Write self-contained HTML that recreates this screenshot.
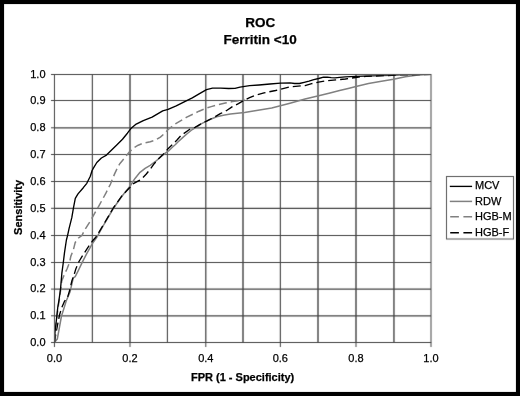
<!DOCTYPE html>
<html><head><meta charset="utf-8"><style>
html,body{margin:0;padding:0;background:#000;}
body{width:520px;height:396px;overflow:hidden;}
svg{display:block;font-family:"Liberation Sans",sans-serif;}
</style></head><body>
<svg width="520" height="396" viewBox="0 0 520 396">
<defs><filter id="soft" x="0" y="0" width="520" height="396" filterUnits="userSpaceOnUse" color-interpolation-filters="sRGB"><feConvolveMatrix order="3" kernelMatrix="0.0064 0.0672 0.0064 0.0672 0.7056 0.0672 0.0064 0.0672 0.0064" divisor="1" edgeMode="duplicate" preserveAlpha="true"/></filter><clipPath id="pa"><rect x="54.9" y="75.25" width="376.10" height="267.25"/></clipPath><filter id="gray" x="0" y="0" width="520" height="396" filterUnits="userSpaceOnUse"><feOffset dx="0" dy="0"/></filter></defs>
<rect x="0" y="0" width="520" height="396" fill="#000"/>
<g filter="url(#soft)">
<rect x="4" y="4" width="512" height="388" fill="#fff"/>
<g stroke="#444" stroke-width="1" fill="none">
<line x1="92.35" y1="74.5" x2="92.35" y2="342.5" stroke-width="1.12"/>
<line x1="130.00" y1="74.5" x2="130.00" y2="342.5" stroke-width="1.40"/>
<line x1="167.40" y1="74.5" x2="167.40" y2="342.5" stroke-width="1.08"/>
<line x1="205.80" y1="74.5" x2="205.80" y2="342.5" stroke-width="1.24"/>
<line x1="243.00" y1="74.5" x2="243.00" y2="342.5" stroke-width="1.40"/>
<line x1="280.35" y1="74.5" x2="280.35" y2="342.5" stroke-width="1.12"/>
<line x1="318.00" y1="74.5" x2="318.00" y2="342.5" stroke-width="1.40"/>
<line x1="356.00" y1="74.5" x2="356.00" y2="342.5" stroke-width="1.40"/>
<line x1="393.95" y1="74.5" x2="393.95" y2="342.5" stroke-width="1.36"/>
<line x1="54.45" y1="315.80" x2="431" y2="315.80" stroke-width="1.24"/>
<line x1="54.45" y1="289.10" x2="431" y2="289.10" stroke-width="1.32"/>
<line x1="54.45" y1="262.50" x2="431" y2="262.50" stroke-width="1.00"/>
<line x1="54.45" y1="235.50" x2="431" y2="235.50" stroke-width="1.00"/>
<line x1="54.45" y1="208.30" x2="431" y2="208.30" stroke-width="1.16"/>
<line x1="54.45" y1="181.50" x2="431" y2="181.50" stroke-width="1.00"/>
<line x1="54.45" y1="154.50" x2="431" y2="154.50" stroke-width="1.00"/>
<line x1="54.45" y1="127.80" x2="431" y2="127.80" stroke-width="1.24"/>
<line x1="54.45" y1="100.50" x2="431" y2="100.50" stroke-width="1.00"/>
<rect x="54.45" y="74.5" width="376.55" height="268"/>
<line x1="51" y1="342.50" x2="54.45" y2="342.50"/>
<line x1="51" y1="315.80" x2="54.45" y2="315.80"/>
<line x1="51" y1="289.10" x2="54.45" y2="289.10"/>
<line x1="51" y1="262.50" x2="54.45" y2="262.50"/>
<line x1="51" y1="235.50" x2="54.45" y2="235.50"/>
<line x1="51" y1="208.30" x2="54.45" y2="208.30"/>
<line x1="51" y1="181.50" x2="54.45" y2="181.50"/>
<line x1="51" y1="154.50" x2="54.45" y2="154.50"/>
<line x1="51" y1="127.80" x2="54.45" y2="127.80"/>
<line x1="51" y1="100.50" x2="54.45" y2="100.50"/>
<line x1="51" y1="74.50" x2="54.45" y2="74.50"/>
<line x1="54.45" y1="342.5" x2="54.45" y2="347"/>
<line x1="130.00" y1="342.5" x2="130.00" y2="347"/>
<line x1="205.80" y1="342.5" x2="205.80" y2="347"/>
<line x1="280.35" y1="342.5" x2="280.35" y2="347"/>
<line x1="356.00" y1="342.5" x2="356.00" y2="347"/>
<line x1="431.00" y1="342.5" x2="431.00" y2="347"/>
</g>
<rect x="446.5" y="176.5" width="67" height="62.5" fill="#fff" stroke="#555" stroke-width="1"/>
</g>
<g fill="none" stroke-linejoin="round" stroke-linecap="butt" filter="url(#gray)">
<g clip-path="url(#pa)">
<polyline points="54.4,342.4 57.3,339.0 61.5,316.0 63.5,309.8 66.2,301.0 70.0,292.0 73.3,277.9 75.2,276.6 78.4,270.3 82.1,262.7 86.6,253.9 92.2,243.8 97.0,237.0 104.5,223.5 113.3,208.5 122.1,196.0 129.8,186.5 135.0,178.4 140.0,172.3 145.1,168.3 150.2,165.3 155.2,161.7 160.3,157.2 165.3,153.1 169.3,150.3 172.6,147.0 175.5,144.5 177.9,142.0 183.2,137.1 187.7,133.3 192.3,129.5 197.5,126.4 201.1,123.8 208.1,120.3 216.7,116.7 223.3,115.2 230.4,114.0 237.4,113.2 244.5,112.4 250.4,111.5 271.7,108.0 290.0,103.2 305.0,99.0 318.7,95.7 330.0,92.9 339.6,90.5 349.2,88.2 356.0,86.5 368.5,83.5 380.0,81.6 393.5,79.2 405.4,76.8 416.1,75.2 424.2,74.4 431.4,74.4" stroke="#808080" stroke-width="1.5"/>
<polyline points="54.4,342.4 56.0,333.0 59.5,315.0 62.0,307.0 64.4,301.4 67.5,297.4 69.7,290.3 70.2,288.0 72.0,280.4 73.9,275.4 75.8,269.0 79.0,261.5 82.1,256.4 87.8,247.6 92.2,241.3 96.0,237.0 104.5,223.0 113.3,208.0 122.1,195.6 129.8,187.5 132.7,184.1 139.8,180.2 141.1,179.4 146.1,174.3 150.2,169.3 154.2,163.7 158.2,159.2 165.3,152.1 167.3,149.6 172.2,144.7 175.0,142.0 177.0,140.0 181.0,135.5 190.7,128.6 195.0,127.3 201.1,123.8 208.1,120.3 215.2,116.7 220.3,113.7 226.3,110.7 232.4,106.6 238.4,103.6 244.5,100.1 249.6,97.7 255.4,95.3 264.0,92.9 268.8,91.9 275.6,90.5 280.4,89.3 290.0,86.8 305.0,85.6 311.7,83.7 318.5,82.1 325.2,81.0 336.0,79.9 345.4,79.0 352.1,78.0 358.8,77.0 366.0,76.4 375.0,76.0 392.0,75.4 400.0,74.9 431.4,74.4" stroke="#000" stroke-width="1.35" stroke-dasharray="8,4"/>
<polyline points="54.4,342.4 55.5,330.0 57.0,316.0 58.5,305.0 60.0,295.0 61.7,281.3 64.5,274.1 67.0,269.0 69.5,262.7 70.8,256.4 73.3,250.1 75.2,242.5 78.5,238.0 82.0,235.3 84.7,230.0 90.3,221.2 99.2,205.3 105.9,193.2 108.5,187.7 110.5,184.1 112.3,179.5 114.6,173.9 117.8,167.0 120.0,163.4 125.1,157.3 129.1,152.3 133.2,148.2 138.2,145.2 143.3,143.2 150.3,141.7 155.4,140.2 160.4,137.1 165.5,132.6 168.1,129.5 176.2,123.4 186.3,117.4 199.0,111.2 205.1,108.6 211.2,106.6 218.2,104.6 225.3,103.1 232.4,101.6 239.4,100.6 244.5,99.6" stroke="#808080" stroke-width="1.5" stroke-dasharray="8,4"/>
<polyline points="54.4,342.4 55.0,332.0 56.4,320.0 57.8,307.0 59.0,300.0 60.5,289.2 61.9,272.8 63.3,262.5 64.5,252.6 66.4,240.0 67.6,235.3 69.1,228.3 71.8,217.7 73.6,207.1 75.3,198.3 78.0,193.9 83.3,187.7 86.8,183.3 90.3,176.2 92.1,170.5 93.4,168.2 96.8,162.5 101.4,158.0 106.5,155.1 111.6,150.0 116.5,145.2 122.5,139.2 127.4,133.2 130.9,128.6 136.2,124.1 143.3,120.6 152.1,117.1 162.7,110.9 168.1,109.3 176.2,105.9 184.2,101.8 192.3,97.8 200.4,93.1 206.5,89.7 212.5,88.1 220.6,88.1 228.7,88.5 235.0,88.3 240.0,87.1 249.6,85.7 259.0,85.0 270.0,84.0 280.5,83.2 290.0,82.9 294.6,83.5 299.4,83.5 304.2,82.3 309.0,81.1 313.8,79.6 318.7,78.5 323.5,77.2 327.3,77.2 331.2,77.7 335.0,77.9 339.6,77.4 345.4,76.8 355.9,76.3 365.0,76.0 378.5,75.7 392.0,75.3 400.0,74.8 431.4,74.4" stroke="#000" stroke-width="1.35"/>
</g>
<line x1="449.8" y1="186.4" x2="472.1" y2="186.4" stroke="#000" stroke-width="1.35"/>
<line x1="449.8" y1="201.4" x2="472.1" y2="201.4" stroke="#808080" stroke-width="1.5"/>
<line x1="450.2" y1="216.8" x2="472.1" y2="216.8" stroke="#808080" stroke-width="1.5" stroke-dasharray="8.7,4.5"/>
<line x1="450.2" y1="232.7" x2="472.1" y2="232.7" stroke="#000" stroke-width="1.35" stroke-dasharray="8.7,4.5"/>
</g>
<g fill="#000" stroke="#000" stroke-width="0.25" filter="url(#gray)">
<g font-weight="bold" font-size="13.5" text-anchor="middle">
<text x="260.2" y="27.2">ROC</text>
<text x="260.2" y="44.2">Ferritin &lt;10</text>
</g>
<g font-size="11">
<text x="45.5" y="345.80" text-anchor="end">0.0</text>
<text x="45.5" y="319.10" text-anchor="end">0.1</text>
<text x="45.5" y="292.40" text-anchor="end">0.2</text>
<text x="45.5" y="265.80" text-anchor="end">0.3</text>
<text x="45.5" y="238.80" text-anchor="end">0.4</text>
<text x="45.5" y="211.60" text-anchor="end">0.5</text>
<text x="45.5" y="184.80" text-anchor="end">0.6</text>
<text x="45.5" y="157.80" text-anchor="end">0.7</text>
<text x="45.5" y="131.10" text-anchor="end">0.8</text>
<text x="45.5" y="103.80" text-anchor="end">0.9</text>
<text x="45.5" y="77.80" text-anchor="end">1.0</text>
<text x="54.45" y="362.25" text-anchor="middle">0.0</text>
<text x="130.00" y="362.25" text-anchor="middle">0.2</text>
<text x="205.80" y="362.25" text-anchor="middle">0.4</text>
<text x="280.35" y="362.25" text-anchor="middle">0.6</text>
<text x="356.00" y="362.25" text-anchor="middle">0.8</text>
<text x="431.00" y="362.25" text-anchor="middle">1.0</text>
</g>
<text x="242.6" y="381.4" font-size="11" font-weight="bold" text-anchor="middle">FPR (1 - Specificity)</text>
<text transform="translate(21.8,207.4) rotate(-90)" font-size="11" font-weight="bold" text-anchor="middle">Sensitivity</text>
<g font-size="11">
<text x="475" y="189.2">MCV</text>
<text x="475" y="204.7">RDW</text>
<text x="475" y="220.3">HGB-M</text>
<text x="475" y="235.9">HGB-F</text>
</g>
</g>
</svg>
</body></html>
